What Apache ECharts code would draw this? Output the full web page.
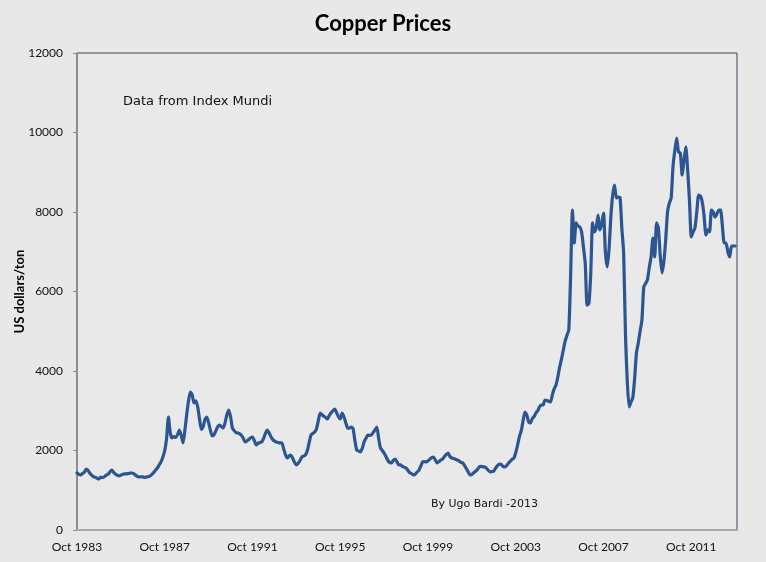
<!DOCTYPE html>
<html>
<head>
    <meta charset="utf-8">
    <title>Copper Prices</title>
    <script src="https://cdn.jsdelivr.net/npm/echarts@6/dist/echarts.min.js"></script>
    <style>
        html, body { margin: 0; padding: 0; background: #e8e8e8; }
        #chart { width: 766px; height: 562px; }
    </style>
</head>
<body>
    <div id="chart"></div>
<script>
    // monthly copper price, US dollars/ton, Oct 1983 .. Oct 2013
    var prices1980s = [
        1434, 1400, 1384,                                                   // 1983 Oct-Dec
        1420, 1450, 1535, 1500, 1430, 1380, 1340, 1330, 1300, 1283, 1330, 1320, // 1984
        1340, 1380, 1400, 1460, 1510, 1450, 1410, 1380, 1359, 1380, 1400, 1410, // 1985
        1410, 1420, 1430, 1434, 1420, 1380, 1350, 1333, 1340, 1335, 1325, 1333, // 1986
        1340, 1360, 1400, 1450, 1510, 1560, 1640, 1720, 1837, 2000, 2300, 2843, // 1987
        2450, 2315, 2350, 2330, 2400, 2516, 2380, 2190, 2500, 2900, 3250, 3472, // 1988
        3400, 3195, 3250, 3100, 2800, 2530, 2600, 2780, 2843, 2700, 2500, 2365  // 1989
    ];
    var prices1990s = [
        2400, 2500, 2600, 2642, 2600, 2566, 2700, 2900, 3019, 2850, 2566, 2500, // 1990
        2450, 2440, 2420, 2380, 2300, 2214, 2240, 2280, 2320, 2340, 2250, 2138, // 1991
        2180, 2200, 2214, 2300, 2420, 2516, 2450, 2350, 2280, 2240, 2214, 2200, // 1992
        2190, 2190, 2050, 1900, 1811, 1860, 1887, 1800, 1700, 1635, 1680, 1750, // 1993
        1837, 1860, 1887, 2000, 2200, 2390, 2430, 2466, 2550, 2750, 2944, 2900, // 1994
        2860, 2830, 2793, 2880, 2950, 3000, 3044, 2950, 2850, 2793, 2944, 2850, // 1995
        2700, 2566, 2560, 2591, 2550, 2250, 2013, 1990, 1962, 2050, 2214, 2300, // 1996
        2390, 2380, 2390, 2450, 2520, 2591, 2300, 2063, 2000, 1930, 1850, 1750, // 1997
        1700, 1686, 1750, 1786, 1720, 1635, 1640, 1600, 1580, 1560, 1500, 1440, // 1998
        1420, 1384, 1400, 1459, 1500, 1600, 1711, 1720, 1711, 1740, 1780, 1820  // 1999
    ];
    var prices2000s = [
        1837, 1760, 1686, 1720, 1760, 1786, 1850, 1900, 1937, 1850, 1811, 1800, // 2000
        1780, 1760, 1740, 1700, 1686, 1620, 1540, 1460, 1384, 1400, 1440, 1480, // 2001
        1520, 1585, 1600, 1590, 1585, 1550, 1500, 1459, 1470, 1484, 1560, 1620, // 2002
        1660, 1650, 1600, 1585, 1620, 1680, 1730, 1780, 1811, 1950, 2138, 2350, // 2003
        2500, 2750, 2969, 2900, 2720, 2692, 2800, 2850, 2944, 3000, 3100, 3145, // 2004
        3150, 3271, 3260, 3240, 3220, 3400, 3550, 3650, 3849, 4100, 4300, 4529, // 2005
        4750, 4900, 5032, 6400, 8050, 7220, 7724, 7650, 7623, 7500, 7120, 6700, // 2006
        5661, 5700, 6450, 7724, 7497, 7600, 7925, 7548, 7700, 7975, 7000, 6617, // 2007
        7060, 7875, 8430, 8679, 8352, 8377, 8370, 7600, 6969, 4900, 3720, 3095, // 2008
        3220, 3330, 3800, 4453, 4705, 5000, 5283, 6114, 6200, 6290, 6600, 6868  // 2009
    ];
    var prices2010s = [
        7346, 6868, 7724, 7600, 6900, 6466, 6750, 7300, 8000, 8226, 8352, 9150, // 2010
        9550, 9862, 9510, 9485, 8931, 9300, 9636, 9057, 8300, 7371, 7500, 7598, // 2011
        8000, 8428, 8400, 8251, 7900, 7422, 7548, 7500, 8050, 8000, 7875, 7950, // 2012
        8050, 8050, 7650, 7220, 7220, 7000, 6868, 7145, 7145, 7145              // 2013 Jan-Oct
    ];
    var prices = prices1980s.concat(prices1990s, prices2000s, prices2010s);

    var monthNames = ['Jan', 'Feb', 'Mar', 'Apr', 'May', 'Jun', 'Jul', 'Aug', 'Sep', 'Oct', 'Nov', 'Dec'];
    // axis runs one month past the last price
    var months = [];
    for (var i = 0; i < prices.length + 1; i++) {
        var k = 9 + i;
        months.push(monthNames[k % 12] + ' ' + (1983 + Math.floor(k / 12)));
    }

    var chart = echarts.init(document.getElementById('chart'));

    var option = {
        backgroundColor: '#e8e8e8',
        animation: false,
        title: {
            text: 'Copper Prices',
            left: 'center',
            top: 8,
            textStyle: {
                fontFamily: 'Lato',
                fontWeight: 'bold',
                fontSize: 22,
                color: '#000'
            }
        },
        grid: {
            left: 77,
            right: 29,
            top: 53,
            bottom: 32,
            containLabel: false,
            outerBoundsMode: 'none',
            show: true,
            borderColor: '#34495e',
            borderWidth: 1,
            backgroundColor: '#e9e9e9'
        },
        xAxis: {
            type: 'category',
            boundaryGap: false,
            data: months,
            axisLine: { lineStyle: { color: '#a8a8a8', width: 2 } },
            axisTick: { show: false },
            axisLabel: {
                interval: 47,
                margin: 11,
                fontFamily: 'Lato',
                fontSize: 12,
                color: '#111'
            },
            splitLine: { show: false }
        },
        yAxis: {
            type: 'value',
            min: 0,
            max: 12000,
            interval: 2000,
            name: 'US dollars/ton',
            nameLocation: 'middle',
            nameGap: 51,
            nameMoveOverlap: false,
            nameTextStyle: {
                fontFamily: 'Lato',
                fontWeight: 'bold',
                fontSize: 13,
                color: '#000'
            },
            axisLine: { show: true, lineStyle: { color: '#8a8a8a', width: 1.5 } },
            axisTick: { show: true, length: 4, lineStyle: { color: '#8a8a8a' } },
            axisLabel: {
                margin: 14,
                fontFamily: 'Lato',
                fontSize: 12,
                color: '#111',
                formatter: function (v) { return String(v); }
            },
            splitLine: { show: false }
        },
        series: [{
            name: 'Copper',
            type: 'line',
            data: prices,
            symbol: 'none',
            smooth: 0.2,
            lineStyle: { color: '#2c5592', width: 3.2, join: 'round', cap: 'round' }
        }],
        graphic: [
            {
                type: 'text',
                left: 123,
                top: 95,
                style: {
                    text: 'Data from Index Mundi',
                    font: '13px "DejaVu Sans"',
                    fill: '#111'
                }
            },
            {
                type: 'text',
                left: 431,
                top: 499,
                style: {
                    text: 'By Ugo Bardi -2013',
                    font: '11px "DejaVu Sans"',
                    fill: '#111'
                }
            }
        ]
    };
    chart.setOption(option);
</script>
</body>
</html>
